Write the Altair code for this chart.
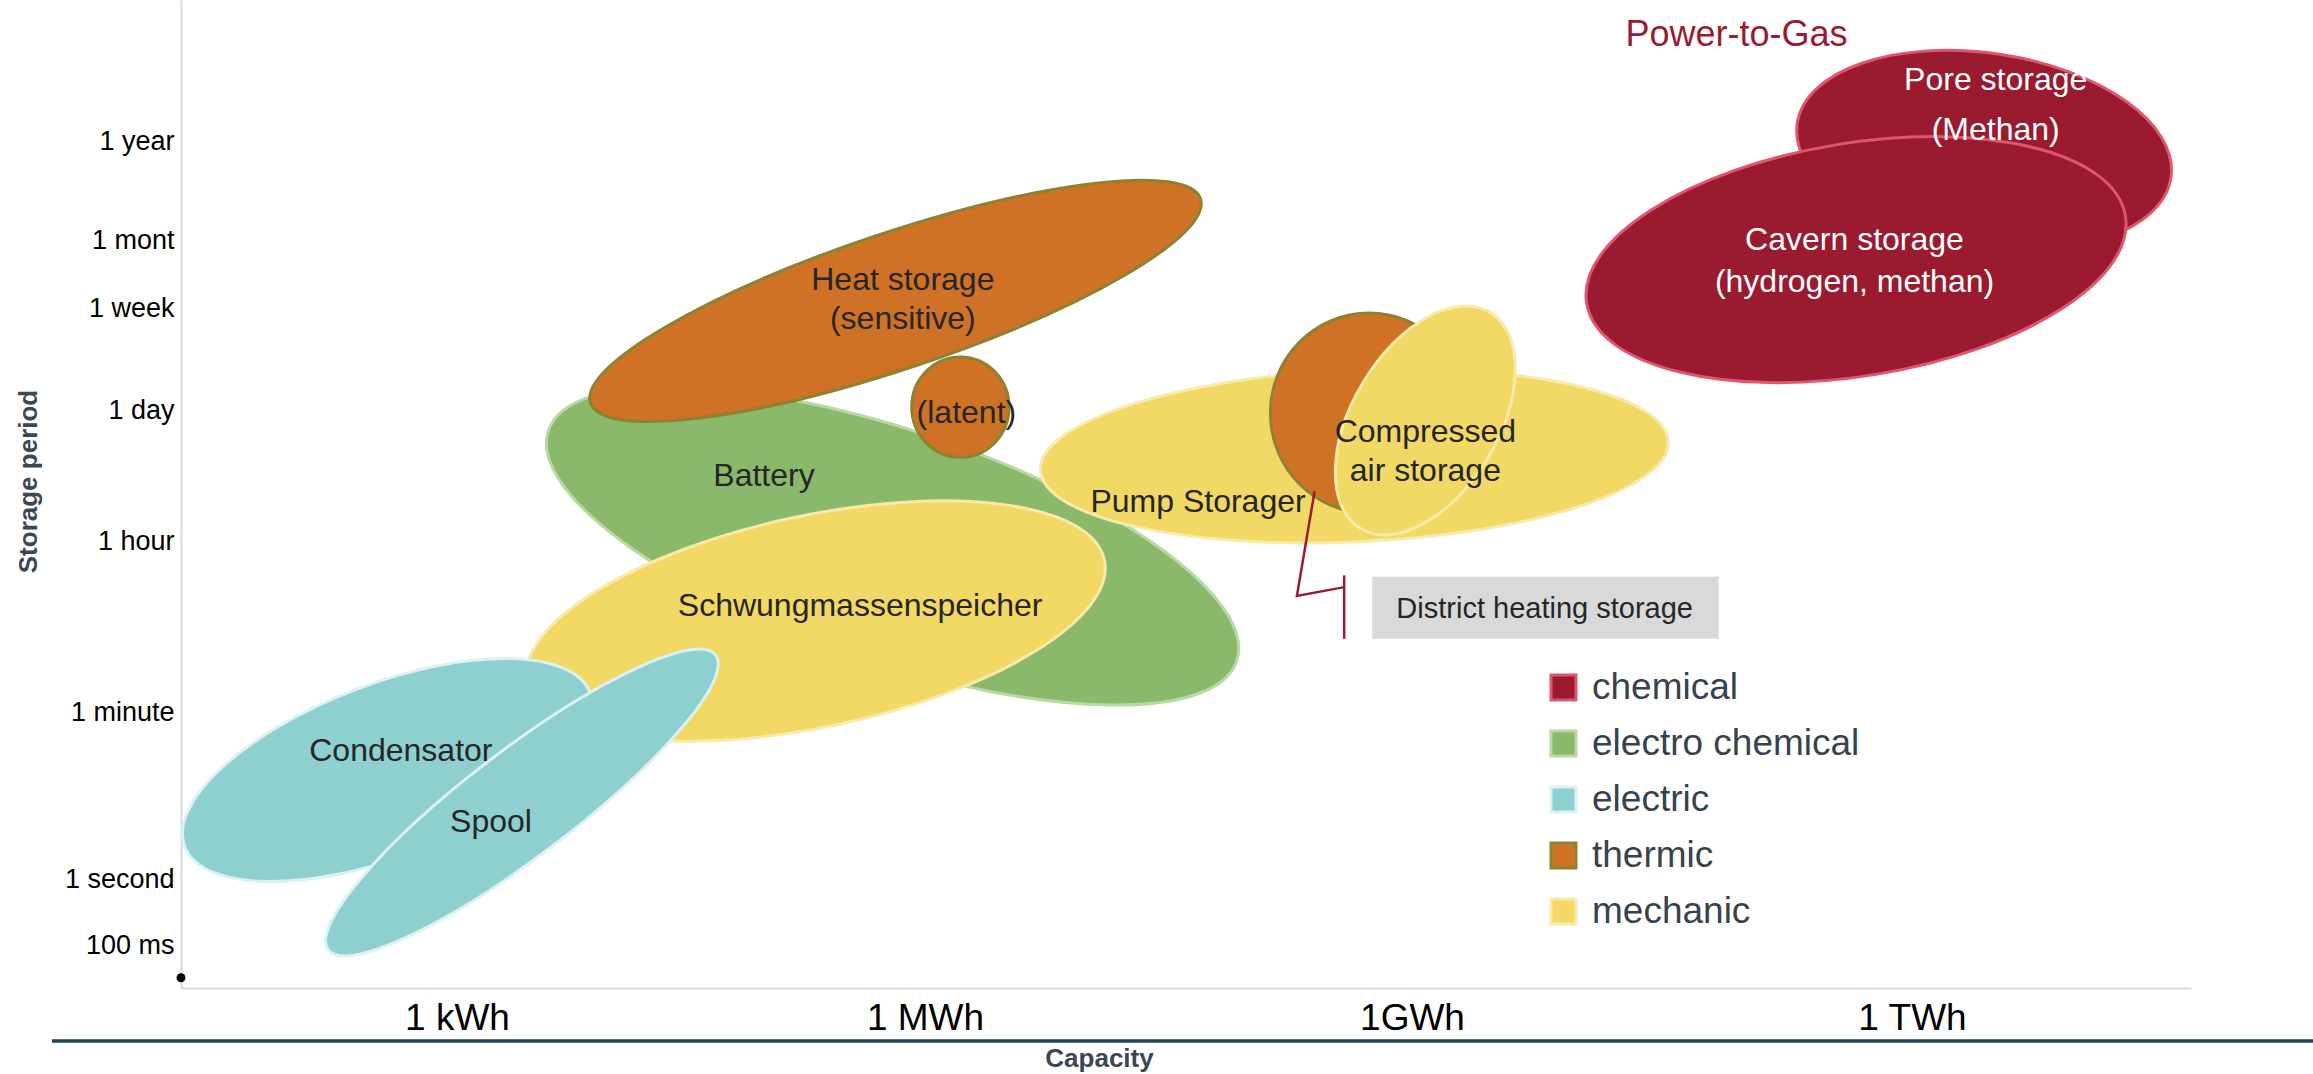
import altair as alt
import pandas as pd

FONT = "Liberation Sans, Arial, Helvetica, sans-serif"

# ---------------- data ----------------
# storage technologies (drawing order = bottom to top)
tech_names = ["Battery", "Heat storage (sensitive)", "Heat storage (latent)",
              "Schwungmassenspeicher", "Condensator", "Spool", "Pump Storager",
              "Compressed air (thermal)", "Compressed air storage",
              "Pore storage", "Cavern storage"]
tech_category = ["electro chemical", "thermic", "thermic", "mechanic", "electric",
                 "electric", "mechanic", "thermic", "mechanic", "chemical", "chemical"]
# centre of each range: log10(capacity in Wh), log10(storage period in s)
tech_capacity = [5.792, 5.811, 6.218, 5.300, 2.555, 3.416, 8.645, 8.736, 9.080, 12.434, 11.664]
tech_period = [3.510, 5.851, 4.962, 2.728, 1.164, 0.818, 4.456, 4.906, 4.828, 7.402, 6.235]

# label lines
label_text = ["Pore storage", "(Methan)", "Cavern storage", "(hydrogen, methan)",
              "Heat storage", "(sensitive)", "(latent)", "Battery",
              "Schwungmassenspeicher", "Condensator", "Spool", "Pump Storager",
              "Compressed", "air storage", "Power-to-Gas", "District heating storage"]
label_capacity = [12.504, 12.504, 11.655, 11.655, 5.858, 5.858, 6.255, 4.968,
                  5.584, 2.640, 3.218, 7.682, 9.080, 9.080, 10.947, 9.796]
label_period = [8.179, 7.629, 6.414, 6.029, 6.043, 5.696, 4.906, 4.239,
                2.882, 1.369, 0.614, 3.975, 4.704, 4.301, 8.665, 2.851]
label_kind = ["light", "light", "light", "light", "dark", "dark", "dark", "dark",
              "dark", "dark", "dark", "dark", "dark", "dark", "accent", "note"]

# district heating note box and its callout
note_capacity = [8.755, 10.841]
note_period = [3.188, 2.544]
callout_capacity = [8.400, 8.291, 8.582]
callout_period = [4.084, 2.989, 3.081]
bracket_capacity = 8.582
bracket_period = [3.203, 2.544]

# legend / categories
cat_order = ["chemical", "electro chemical", "electric", "thermic", "mechanic"]

# axes
cap_ticks = [3, 6, 9, 12]
cap_labels = ["1 kWh", "1 MWh", "1GWh", "1 TWh"]
period_ticks = [-1, 0, 1.778, 3.556, 4.937, 5.782, 6.414, 7.499]
period_labels = ["100 ms", "1 second", "1 minute", "1 hour", "1 day", "1 week", "1 mont", "1 year"]

# ---------------- styles ----------------
fill_colors = ["#9a1b30", "#8ab96b", "#8ecfd0", "#d07226", "#f2d865"]
stroke_colors = ["#e0566e", "#b8d8a4", "#dcf1f1", "#8c8232", "#f8eaa8"]
semi_major_px = [362.9, 321.6, 48.7, 295.0, 216.8, 243.4, 314.2, 98.8, 126.0, 188.8, 272.9]
semi_minor_px = [116.0, 67.9, 50.2, 105.8, 86.6, 53.1, 86.0, 100.0, 72.9, 97.4, 116.5]
rotation_deg = [18.5, 341.5, 0, 348.05, 339.3, 322.7, 357.4, 0, 300.9, 8.2, 350.8]
kind_color = {"light": "#ffffff", "dark": "#262626", "accent": "#9a1b30", "note": "#262626"}
kind_size = {"light": 32, "dark": 32, "accent": 36, "note": 29}

# x / y calibration (tick positions in px)
x_scale = alt.Scale(domain=[1.23, 3, 6, 9, 12, 13.68],
                    range=[0, 276, 744, 1231, 1731, 2010], nice=False, zero=False)
y_scale = alt.Scale(domain=[-1.644, -1, 0, 1.778, 3.556, 4.937, 5.782, 6.414, 7.499, 9.053],
                    range=[988, 945.5, 879.2, 712.5, 541.4, 410.1, 308.3, 240.4, 141.6, 0],
                    nice=False, zero=False)


def ellipse_path(ratio):
    k = 0.5523
    r = ratio
    return (f"M -1 0 C -1 {-k*r:.4f} {-k} {-r:.4f} 0 {-r:.4f} "
            f"C {k} {-r:.4f} 1 {-k*r:.4f} 1 0 "
            f"C 1 {k*r:.4f} {k} {r:.4f} 0 {r:.4f} "
            f"C {-k} {r:.4f} -1 {k*r:.4f} -1 0 Z")


def label_expr(ticks, labels):
    expr = "''"
    for t, l in reversed(list(zip(ticks, labels))):
        expr = f"abs(datum.value - ({t})) < 0.001 ? '{l}' : {expr}"
    return expr


tech_df = pd.DataFrame({
    "name": tech_names,
    "category": tech_category,
    "x": tech_capacity,
    "y": tech_period,
    "path": [ellipse_path(b / a) for a, b in zip(semi_major_px, semi_minor_px)],
    "size": [(2 * a) ** 2 for a in semi_major_px],
    "angle": rotation_deg,
    "order": list(range(len(tech_names))),
})

labels_df = pd.DataFrame({
    "text": label_text,
    "x": label_capacity,
    "y": label_period,
    "color": [kind_color[k] for k in label_kind],
    "fs": [kind_size[k] for k in label_kind],
})

x_axis = alt.Axis(values=cap_ticks, labelExpr=label_expr(cap_ticks, cap_labels),
                  title="Capacity", grid=False, ticks=False, domainColor="#d5dcd5",
                  domainWidth=2, labelFontSize=37, labelColor="#000000", labelFont=FONT,
                  labelPadding=12, labelOverlap=False, labelFlush=False,
                  titleFont=FONT, titleFontSize=26, titleFontWeight="bold",
                  titleColor="#3b4752", titleX=918, titleY=78, titleBaseline="alphabetic")
y_axis = alt.Axis(values=period_ticks, labelExpr=label_expr(period_ticks, period_labels),
                  title="Storage period", grid=False, ticks=False, domainColor="#d5dcd5",
                  domainWidth=2, labelFontSize=27, labelColor="#000000", labelFont=FONT,
                  labelPadding=7, labelOverlap=False, labelFlush=False,
                  titleFont=FONT, titleFontSize=26, titleFontWeight="bold",
                  titleColor="#3b4752", titleX=-145, titleY=481, titleAngle=270,
                  titleBaseline="alphabetic", titleAlign="center")


def X(field="x"):
    return alt.X(f"{field}:Q", scale=x_scale, axis=x_axis, title="Capacity")


def Y(field="y"):
    return alt.Y(f"{field}:Q", scale=y_scale, axis=y_axis, title="Storage period")


legend = alt.Legend(orient="none", legendX=1364, legendY=669, title=None,
                    symbolType="square", symbolSize=625, symbolStrokeWidth=3,
                    labelFontSize=37, labelFont=FONT, labelColor="#36434e",
                    labelOffset=10, labelLimit=0, rowPadding=18, padding=0,
                    direction="vertical")

ellipses = alt.Chart(tech_df).mark_point(filled=True, opacity=1, strokeWidth=3).encode(
    x=X(), y=Y(),
    fill=alt.Fill("category:N", scale=alt.Scale(domain=cat_order, range=fill_colors),
                  legend=legend, sort=cat_order),
    stroke=alt.Stroke("category:N", scale=alt.Scale(domain=cat_order, range=stroke_colors),
                      legend=legend, sort=cat_order),
    shape=alt.Shape("path:N", scale=None),
    size=alt.Size("size:Q", scale=None),
    angle=alt.Angle("angle:Q", scale=None),
    order=alt.Order("order:Q"),
)

note_df = pd.DataFrame({"x": [note_capacity[0]], "x2": [note_capacity[1]],
                        "y": [note_period[0]], "y2": [note_period[1]]})
note_box = alt.Chart(note_df).mark_rect(color="#d9d9d9").encode(
    x=X(), x2="x2:Q", y=Y(), y2="y2:Q")

callout_df = pd.DataFrame({"x": callout_capacity, "y": callout_period,
                           "o": list(range(len(callout_capacity)))})
callout = alt.Chart(callout_df).mark_line(color="#9a1b30", strokeWidth=2.5).encode(
    x=X(), y=Y(), order="o:Q")

bracket_df = pd.DataFrame({"x": [bracket_capacity], "y": [bracket_period[0]],
                           "y2": [bracket_period[1]]})
bracket = alt.Chart(bracket_df).mark_rule(color="#9a1b30", strokeWidth=2.5).encode(
    x=X(), y=Y(), y2="y2:Q")

texts = alt.Chart(labels_df).mark_text(font=FONT, align="center", baseline="middle").encode(
    x=X(), y=Y(), text="text:N",
    color=alt.Color("color:N", scale=None),
    size=alt.Size("fs:Q", scale=None),
)

origin_df = pd.DataFrame({"x": [1.23], "y": [-1.489]})
origin = alt.Chart(origin_df).mark_point(filled=True, color="#000000", size=80, opacity=1).encode(
    x=X(), y=Y())

base_line = alt.Chart(pd.DataFrame({"a": [0]})).mark_rule(
    color="#1d4656", strokeWidth=3.5).encode(
    x=alt.value(-129), x2=alt.value(2132), y=alt.value(1041))

chart = alt.layer(ellipses, note_box, callout, bracket, texts, origin, base_line).properties(
    width=2010, height=988,
    autosize=alt.AutoSizeParams(type="none"),
    padding={"left": 181, "top": 0, "right": 122, "bottom": 86},
    background="#ffffff",
).configure_view(stroke=None)

chart.save("out.html", embed_options={"renderer": "svg", "actions": False})
